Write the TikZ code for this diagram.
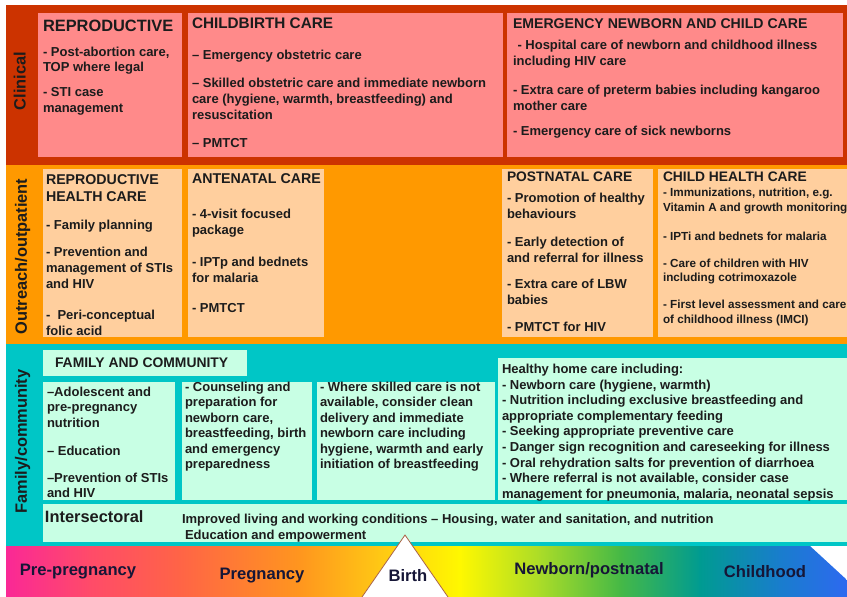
\documentclass[tikz,border=0pt]{standalone}
\usepackage{fontspec}
\setmainfont{Liberation Sans}
\definecolor{clin}{RGB}{204,51,0}
\definecolor{clinbox}{RGB}{255,138,138}
\definecolor{outr}{RGB}{255,153,0}
\definecolor{outrbox}{RGB}{255,207,158}
\definecolor{fam}{RGB}{0,198,198}
\definecolor{fambox}{RGB}{200,255,228}
\definecolor{ink}{RGB}{28,28,28}
\definecolor{navy}{RGB}{22,22,55}
\definecolor{tribrown}{RGB}{170,100,70}
\definecolor{g0}{RGB}{250,40,150}
\definecolor{g1}{RGB}{255,75,105}
\definecolor{g2}{RGB}{255,100,70}
\definecolor{g3}{RGB}{255,150,30}
\definecolor{g4}{RGB}{255,200,20}
\definecolor{g5}{RGB}{255,248,0}
\definecolor{g6}{RGB}{170,220,40}
\definecolor{g7}{RGB}{70,185,70}
\definecolor{g8}{RGB}{0,155,145}
\definecolor{g9}{RGB}{25,125,205}
\definecolor{g10}{RGB}{45,105,240}
\tikzset{
  txt/.style={anchor=north west, inner sep=0pt, outer sep=0pt, align=left, text=ink},
  headtxt/.style={txt, font=\bfseries\fontsize{#1}{17}\selectfont},
  bodytxt/.style={txt, font=\bfseries\fontsize{13}{#1}\selectfont},
  bodytxt/.default=15.7,
  smalltxt/.style={txt, font=\bfseries\fontsize{11.7}{14.7}\selectfont},
  vlab/.style={rotate=90, anchor=base, inner sep=0pt, text=ink, font=\bfseries\fontsize{16.4}{18}\selectfont},
  phase/.style={anchor=base, inner sep=0pt, text=navy, font=\bfseries\fontsize{16.6}{18}\selectfont},
}
\begin{document}
\begin{tikzpicture}[x=1pt,y=-1pt]
\useasboundingbox (0,0) rectangle (847,597);
\clip (0,0) rectangle (847,597);
\fill[white] (0,0) rectangle (847,597);
% bands
\fill[clin] (6,5) rectangle (847,165);
\fill[outr] (6,165) rectangle (847,344);
\fill[fam] (6,344) rectangle (847,546);
% clinical boxes
\fill[clinbox] (38,13) rectangle (182,157);
\fill[clinbox] (188,13) rectangle (503,157);
\fill[clinbox] (507,13) rectangle (843,157);
% outreach boxes
\fill[outrbox] (43,169) rectangle (182,337);
\fill[outrbox] (188,169) rectangle (324,337);
\fill[outrbox] (502,169) rectangle (653,337);
\fill[outrbox] (658,169) rectangle (847,337);
% family boxes
\fill[fambox] (43,350) rectangle (247,376);
\fill[fambox] (43,382) rectangle (175,500);
\fill[fambox] (182,382) rectangle (312,500);
\fill[fambox] (317,382) rectangle (495,500);
\fill[fambox] (498,358) rectangle (847,500);
\fill[fambox] (43,504) rectangle (847,542);
% rainbow arrow
\begin{scope}
\clip (6,546) -- (810,546) -- (847,580) -- (847,600) -- (6,600) -- cycle;
\foreach \xa/\xb/\ca/\cb in {6/90/g0/g1, 90/180/g1/g2, 180/300/g2/g3, 300/380/g3/g4, 380/460/g4/g5, 460/540/g5/g6, 540/620/g6/g7, 620/700/g7/g8, 700/780/g8/g9, 780/847/g9/g10}
  \shade[left color=\ca, right color=\cb] (\xa-0.4,546) rectangle (\xb+0.4,600);
\end{scope}
\filldraw[fill=white, draw=tribrown, line width=0.8pt] (405,535) -- (457,610) -- (353,610) -- cycle;
% side labels
\node[vlab] (lclin) at (25.5,81) {Clinical};
\node[vlab] (lout) at (27,256.5) {Outreach/outpatient};
\node[vlab] (lfam) at (27,441.5) {Family/community};
% clinical texts
\node[headtxt=16.4] (h1) at (43,20) {REPRODUCTIVE};
\node[bodytxt=15.5] (t1) at (43,47) {- Post-abortion care,\\TOP where legal\\[9.5pt]- STI case\\management};
\node[headtxt=15.3] (h2) at (192,17.5) {CHILDBIRTH CARE};
\node[bodytxt] (t2) at (192,50) {– Emergency obstetric care\\[12.6pt]– Skilled obstetric care and immediate newborn\\care (hygiene, warmth, breastfeeding) and\\resuscitation\\[12.6pt]– PMTCT};
\node[headtxt=14.1] (h3) at (513,18.5) {EMERGENCY NEWBORN AND CHILD CARE};
\node[bodytxt] (t3) at (513,40) {\hspace*{4.5pt}- Hospital care of newborn and childhood illness\\including HIV care\\[14pt]- Extra care of preterm babies including kangaroo\\mother care\\[9pt]- Emergency care of sick newborns};
% outreach texts
\node[headtxt=14.2] (h4) at (46,175) {REPRODUCTIVE\\HEALTH CARE};
\node[bodytxt=16] (t4) at (46,220) {- Family planning\\[11pt]- Prevention and\\management of STIs\\and HIV\\[15pt]-\ \ Peri-conceptual\\folic acid};
\node[headtxt=14.2] (h5) at (192,174) {ANTENATAL CARE};
\node[bodytxt=16] (t5) at (192,209) {- 4-visit focused\\package\\[16pt]- IPTp and bednets\\for malaria\\[14pt]- PMTCT};
\node[headtxt=13.8] (h6) at (507,172) {POSTNATAL CARE};
\node[bodytxt=16] (t6) at (507,193) {- Promotion of healthy\\behaviours\\[12pt]- Early detection of\\and referral for illness\\[10pt]- Extra care of LBW\\babies\\[11pt]- PMTCT for HIV};
\node[headtxt=13.8] (h7) at (663,172) {CHILD HEALTH CARE};
\node[smalltxt] (t7) at (663,188.5) {- Immunizations, nutrition, e.g.\\Vitamin A and growth monitoring\\[14pt]- IPTi and bednets for malaria\\[12pt]- Care of children with HIV\\including cotrimoxazole\\[12pt]- First level assessment and care\\of childhood illness (IMCI)};
% family texts
\node[headtxt=13.9] (h8) at (55,358) {FAMILY AND COMMUNITY};
\node[bodytxt=15.5] (t8) at (47,387) {–Adolescent and\\pre-pregnancy\\nutrition\\[12.5pt]– Education\\[11.5pt]–Prevention of STIs\\and HIV};
\node[bodytxt=15.5] (t9) at (185,382) {- Counseling and\\preparation for\\newborn care,\\breastfeeding, birth\\and emergency\\preparedness};
\node[bodytxt=15.5] (t10) at (320,382) {- Where skilled care is not\\available, consider clean\\delivery and immediate\\newborn care including\\hygiene, warmth and early\\initiation of breastfeeding};
\node[bodytxt=15.6] (t11) at (502,364) {Healthy home care including:\\- Newborn care (hygiene, warmth)\\- Nutrition including exclusive breastfeeding and\\appropriate complementary feeding\\- Seeking appropriate preventive care\\- Danger sign recognition and careseeking for illness\\- Oral rehydration salts for prevention of diarrhoea\\- Where referral is not available, consider case\\management for pneumonia, malaria, neonatal sepsis};
\node[headtxt=16.4] (h9) at (45,511) {Intersectoral};
\node[bodytxt=16] (t12) at (182,514.5) {Improved living and working conditions – Housing, water and sanitation, and nutrition\\\hspace*{3pt}Education and empowerment};
% phases
\node[phase] (p1) at (78,575) {Pre-pregnancy};
\node[phase] (p2) at (262,579) {Pregnancy};
\node[phase] (p3) at (408,581) {Birth};
\node[phase] (p4) at (589,574) {Newborn/postnatal};
\node[phase] (p5) at (765,577) {Childhood};
\end{tikzpicture}
\end{document}
